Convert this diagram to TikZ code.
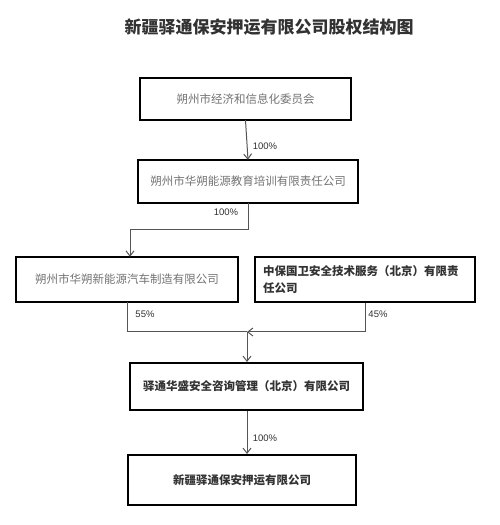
\documentclass[tikz,border=0pt]{standalone}
\usepackage{fontspec}
\setmainfont{Liberation Sans}
\newfontfamily\cjk{Noto Sans CJK SC}
\usetikzlibrary{positioning,arrows.meta,calc}
\definecolor{FrameBlack}{RGB}{25,25,25}
\definecolor{LineGray}{RGB}{85,85,85}
\definecolor{PaleText}{RGB}{115,115,115}
\definecolor{DarkText}{RGB}{50,50,50}
\tikzset{
  flow/.style={-{Straight Barb[length=1.8mm,width=2.8mm]},line width=1pt,draw=LineGray},
  link/.style={line width=1pt,draw=LineGray},
  frame/.style={draw=black,line width=2pt},
  paleorg/.style={text=PaleText,font=\cjk\fontsize{11.5}{15}\selectfont},
  darkorg/.style={frame,text=DarkText,font=\cjk\bfseries\fontsize{11.5}{17}\selectfont},
  pct/.style={font=\fontsize{9.5}{11}\selectfont,text=DarkText,inner sep=1pt},
  headline/.style={font=\cjk\bfseries\fontsize{17}{20}\selectfont,text=DarkText}
}
\begin{document}
\begin{tikzpicture}[x=1pt,y=1pt]
  \useasboundingbox[fill=white] (0,0) rectangle (500,525);
  \node[headline] (title) at (269,498) {新疆驿通保安押运有限公司股权结构图};
  \node[paleorg,minimum width=211pt,minimum height=42pt] (jxw) at (245.5,426)
    {朔州市经济和信息化委员会};
  \node[paleorg,minimum width=220pt,minimum height=43pt] (pxgs) at (248,343.5)
    {朔州市华朔能源教育培训有限责任公司};
  \node[paleorg,minimum width=222pt,minimum height=45pt] (qcgs) at (127,245.5)
    {朔州市华朔新能源汽车制造有限公司};
  \node[darkorg,minimum width=220pt,minimum height=45pt,align=left,
    text width=204pt] (zbgw) at (365,245.5)
    {中保国卫安全技术服务（北京）有限责\\任公司};
  \node[darkorg,minimum width=233pt,minimum height=47pt] (yths) at (246.5,138.5)
    {驿通华盛安全咨询管理（北京）有限公司};
  \node[darkorg,minimum width=228pt,minimum height=50pt] (xjyt) at (242,45)
    {新疆驿通保安押运有限公司};
  % frames of the pale boxes
  \foreach \b in {jxw,pxgs,qcgs}
    \draw[frame] (\b.south west) rectangle (\b.north east);
  \coordinate (split) at (130,295);
  \coordinate (join) at (247,193);
  \draw[flow] (jxw.south) -- (pxgs.north);
  \draw[link] (pxgs.south) |- (split);
  \draw[flow] (split) -- (split |- qcgs.north);
  \draw[link] (qcgs.south) |- (join);
  \draw[flow] (zbgw.south) |- (join);
  \draw[flow] (join) -- (join |- yths.north);
  \draw[flow] (yths.south -| join) -- (xjyt.north -| join);
  \node[pct] (p1) at (265,379) {100\%};
  \node[pct] (p2) at (226,313) {100\%};
  \node[pct] (p3) at (145,211) {55\%};
  \node[pct] (p4) at (378,211) {45\%};
  \node[pct] (p5) at (265,87) {100\%};
\end{tikzpicture}
\end{document}
